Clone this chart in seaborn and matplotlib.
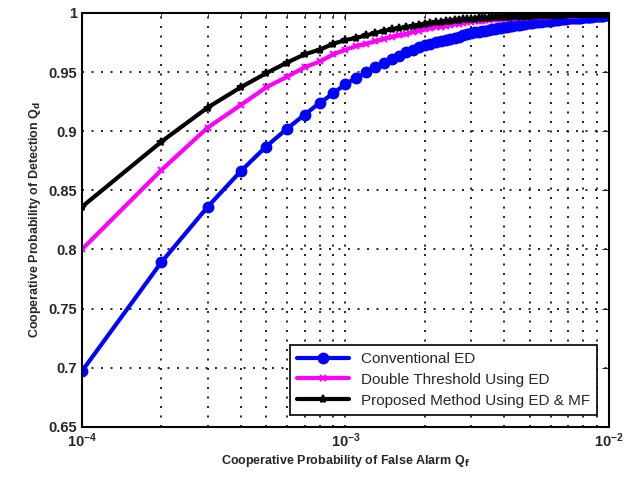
import numpy as np
import pandas as pd
import matplotlib
matplotlib.use("Agg")
import matplotlib.pyplot as plt
import seaborn as sns

# false alarm grid: markers every 1e-4 from 1e-4 to 1e-2
pfa = np.arange(1, 101) * 1e-4

conv_ed = [
    .697, .789, .836, .866, .887, .902, .914, .924, .932, .940,
    .945, .950, .954, .958, .961, .964, .967, .969, .971, .973,
    .974, .975, .976, .977, .978, .979, .980, .981, .982, .983,
    .9835, .984, .9845, .985, .9855, .986, .9865, .987, .9875, .988,
    .9885, .989, .9893, .9896, .9899, .9902, .9905, .9908, .9911, .9914,
    .9917, .992, .9922, .9924, .9926, .9928, .993, .9932, .9934, .9936,
    .9938, .994, .9942, .9944, .9946, .9948, .995, .9951, .9952, .9953,
    .9954, .9955, .9956, .9957, .9958, .9959, .996, .9961, .9962, .9963,
    .9964, .9965, .9966, .9967, .9968, .9969, .997, .9971, .9972, .9973,
    .9974, .9975, .9976, .9977, .9978, .9979, .998, .998, .9981, .9981,
]
double_thr = [
    .800, .867, .903, .922, .937, .946, .954, .959, .965, .969,
    .972, .974, .976, .978, .980, .981, .982, .984, .985, .986,
    .987, .988, .9885, .989, .990, .9905, .991, .9915, .992, .9925,
    .993, .9933, .9936, .9939, .9942, .9945, .9948, .995, .9952, .9954,
    .9956, .9958, .996, .9962, .9964, .9965, .9966, .9967, .9968, .9969,
    .997, .9971, .9972, .9973, .9974, .9975, .9976, .9977, .9978, .9979,
    .998, .998, .9981, .9981, .9982, .9982, .9983, .9983, .9984, .9984,
    .9985, .9985, .9985, .9986, .9986, .9986, .9987, .9987, .9987, .9988,
    .9988, .9988, .9988, .9989, .9989, .9989, .9989, .999, .999, .999,
    .999, .999, .9991, .9991, .9991, .9991, .9992, .9992, .9992, .9992,
]
proposed = [
    .836, .891, .920, .937, .949, .958, .965, .969, .974, .977,
    .979, .981, .983, .985, .986, .987, .988, .989, .990, .991,
    .9915, .992, .9925, .993, .9934, .9938, .9942, .9945, .9948, .995,
    .9952, .9954, .9956, .9958, .996, .9962, .9964, .9965, .9966, .9967,
    .9968, .9969, .997, .9971, .9972, .9973, .9974, .9975, .9976, .9977,
    .9978, .9979, .998, .998, .9981, .9981, .9982, .9982, .9983, .9983,
    .9984, .9984, .9985, .9985, .9985, .9986, .9986, .9986, .9987, .9987,
    .9987, .9988, .9988, .9988, .9988, .9989, .9989, .9989, .9989, .999,
    .999, .999, .999, .999, .9991, .9991, .9991, .9991, .9991, .9992,
    .9992, .9992, .9992, .9992, .9993, .9993, .9993, .9993, .9993, .9993,
]

labels = ["Conventional ED", "Double Threshold Using ED", "Proposed Method Using ED & MF"]
colors = ["#0000ff", "#ff00ff", "#000000"]
markers = ["o", "x", "*"]
msizes = [7, 5, 6]

sns.set_style("white")
plt.rcParams["font.family"] = ["Liberation Sans", "DejaVu Sans"]
plt.rcParams["mathtext.default"] = "bf"

fig = plt.figure(figsize=(6.35, 4.79), dpi=100)
ax = fig.add_axes([0.129, 0.109, 0.830, 0.864])

for ys, lab, c, m, ms in zip([conv_ed, double_thr, proposed], labels, colors, markers, msizes):
    d = pd.DataFrame({"pfa": pfa, "qd": ys})
    sns.lineplot(data=d, x="pfa", y="qd", ax=ax, color=c, marker=m, markersize=ms,
                 markeredgecolor=c, markeredgewidth=1.5, linewidth=3, label=lab)

ax.set_xscale("log")
ax.set_xlim(1e-4, 1e-2)
ax.set_ylim(0.65, 1.0)
ax.set_yticks([0.65, 0.7, 0.75, 0.8, 0.85, 0.9, 0.95, 1.0])
ax.set_yticklabels(["0.65", "0.7", "0.75", "0.8", "0.85", "0.9", "0.95", "1"])

grid_dots = (0, (1.2, 4.5))
ax.grid(True, which="major", color="black", linestyle=grid_dots, linewidth=1.2)
ax.grid(True, which="minor", axis="x", color="black", linestyle=grid_dots, linewidth=1.2)
ax.tick_params(which="both", direction="in", top=True, right=True, labelsize=10.5)
ax.tick_params(which="major", length=5)
ax.tick_params(which="minor", length=3)
for lbl in ax.get_xticklabels() + ax.get_yticklabels():
    lbl.set_fontweight("bold")
for s in ax.spines.values():
    s.set_color("black")
    s.set_linewidth(1.5)

ax.set_xlabel("Cooperative Probability of False Alarm Q$_f$", fontsize=9, fontweight="bold", labelpad=2)
ax.set_ylabel("Cooperative Probability of Detection Q$_d$", fontsize=9, fontweight="bold", labelpad=4)

leg = ax.legend(loc="lower right", fontsize=11, fancybox=False, framealpha=1,
                edgecolor="black", handlelength=3.4, borderaxespad=0.8,
                borderpad=0.45, labelspacing=0.45)
leg.get_frame().set_linewidth(1.2)

fig.savefig("out.png", dpi=100)
